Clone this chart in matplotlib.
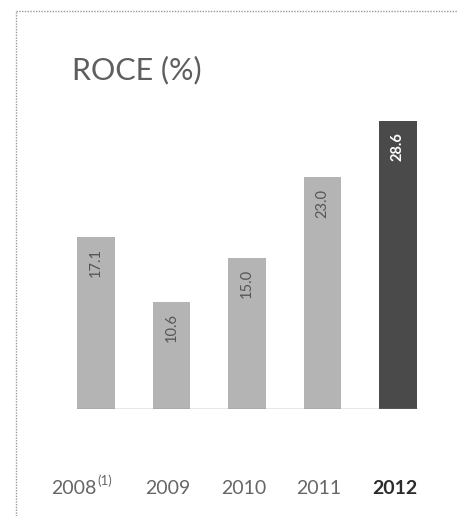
import matplotlib.pyplot as plt
from matplotlib.lines import Line2D

years = ["2008", "2009", "2010", "2011", "2012"]
roce = [17.1, 10.6, 15.0, 23.0, 28.6]
bar_colors = ["#b4b4b4", "#b4b4b4", "#b4b4b4", "#b4b4b4", "#4a4a4a"]
label_colors = ["#555555", "#555555", "#555555", "#555555", "#ffffff"]

W, H = 457, 516
fig = plt.figure(figsize=(W / 100, H / 100), dpi=100)
fig.patch.set_facecolor("white")

# one unit on x = 75.5 px, one unit on y = 10.08 px
ax = fig.add_axes([20.5 / W, 107 / H, 453 / W, 302 / H])
ax.set_xlim(-1, 5)
ax.set_ylim(0, 30)
ax.axis("off")

x = list(range(len(years)))
ax.bar(x, roce, width=0.5, color=bar_colors, zorder=2)
ax.plot([-0.25, 4.25], [0, 0], color="#8a8a8a", lw=1, zorder=3)

for i, v in enumerate(roce):
    bold = i == len(roce) - 1
    ax.annotate(f"{v:.1f}", xy=(i, v), xytext=(0, -8), textcoords="offset points",
                rotation=90, ha="center", va="top", fontsize=10.5,
                color=label_colors[i], fontweight="bold" if bold else "normal",
                family="Lato")

# year labels under the bars, the last one in bold
for i, yr in enumerate(years):
    bold = i == len(years) - 1
    dx = -16 if i == 0 else -2.5
    ax.annotate(yr, xy=(i, 0), xytext=(dx, -57), textcoords="offset points",
                ha="center", va="center", fontsize=14, family="Lato",
                fontweight="bold" if bold else "normal",
                color="#2b2b2b" if bold else "#666666")
ax.annotate("(1)", xy=(0, 0), xytext=(1, -52), textcoords="offset points",
            ha="left", va="center", fontsize=9.5, family="Lato",
            color="#666666")

fig.text(72 / W, 1 - 70 / H, "ROCE (%)", fontsize=22, family="Lato",
         color="#5e5e5e", ha="left", va="center")

# dotted frame on top and left
fig.add_artist(Line2D([16 / W, 16 / W], [0, 1 - 11 / H], color="#9a9a9a",
                      lw=1, ls=(0, (1, 1))))
fig.add_artist(Line2D([16 / W, 1], [1 - 11 / H, 1 - 11 / H], color="#9a9a9a",
                      lw=1, ls=(0, (1, 1))))

fig.savefig("out.png", dpi=100)
